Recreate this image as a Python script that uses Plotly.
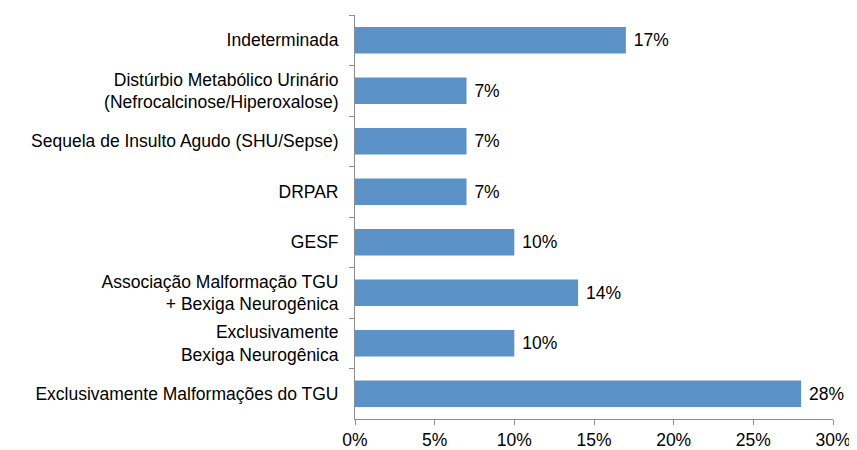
import plotly.graph_objects as go

categories = [
    "Indeterminada",
    "Distúrbio Metabólico Urinário<br>(Nefrocalcinose/Hiperoxalose)",
    "Sequela de Insulto Agudo (SHU/Sepse)",
    "DRPAR",
    "GESF",
    "Associação Malformação TGU<br>+ Bexiga Neurogênica",
    "Exclusivamente<br>Bexiga Neurogênica",
    "Exclusivamente Malformações do TGU",
]
values = [17, 7, 7, 7, 10, 14, 10, 28]
x_ticks = [0, 5, 10, 15, 20, 25, 30]
x_tick_labels = ["0%", "5%", "10%", "15%", "20%", "25%", "30%"]

FS = 17.5

fig = go.Figure(go.Bar(
    x=values,
    y=categories,
    orientation="h",
    marker=dict(color="#5B93C9", line=dict(width=0)),
    text=[f"\u00a0{v}%" for v in values],
    textposition="outside",
    textfont=dict(size=FS, color="#000000"),
    cliponaxis=False,
))

# page body has an 8px default margin, so the figure is sized 8px smaller
fig.update_layout(
    width=849, height=442,
    margin=dict(l=347, r=24, t=7, b=31),
    paper_bgcolor="white", plot_bgcolor="white",
    font=dict(family="Liberation Sans, Arial, sans-serif", size=FS, color="#000000"),
    bargap=0.48,
    showlegend=False,
)
fig.update_xaxes(
    range=[0, 30], tickvals=x_ticks, ticktext=x_tick_labels,
    showgrid=False, zeroline=False, automargin=False,
    showline=True, linecolor="#8c8c8c", linewidth=1,
    ticks="outside", ticklen=5, tickcolor="#8c8c8c",
    tickfont=dict(size=FS),
)
fig.update_yaxes(
    autorange="reversed", showgrid=False, zeroline=False, automargin=False,
    showline=True, linecolor="#8c8c8c", linewidth=1,
    ticks="outside", ticklen=5, tickcolor="#8c8c8c", tickson="boundaries",
    ticklabelstandoff=12,
    tickfont=dict(size=FS),
)

fig.write_html("out.html")
